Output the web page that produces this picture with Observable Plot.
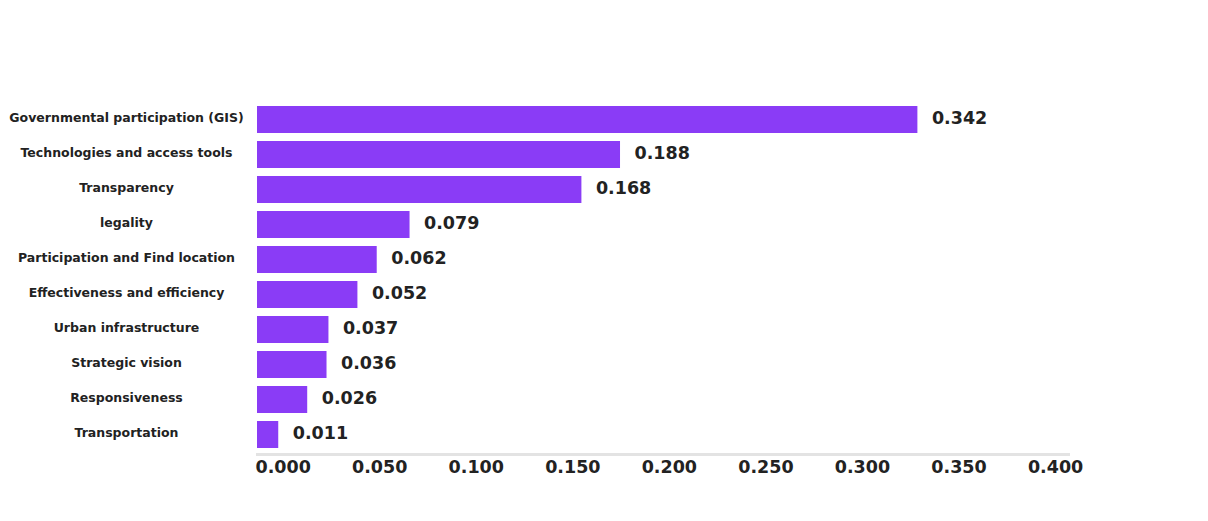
<!DOCTYPE html>
<html>
<head>
<meta charset="utf-8">
<script src="https://cdn.jsdelivr.net/npm/d3@7"></script>
<script src="https://cdn.jsdelivr.net/npm/@observablehq/plot@0.6"></script>
<style>
  html, body { margin: 0; padding: 0; background: #ffffff; }
  #chart { width: 1208px; height: 521px; }
</style>
</head>
<body>
<div id="chart"></div>
<script>
const categories = [
  "Governmental participation (GIS)",
  "Technologies and access tools",
  "Transparency",
  "legality",
  "Participation and Find location",
  "Effectiveness and efficiency",
  "Urban infrastructure",
  "Strategic vision",
  "Responsiveness",
  "Transportation"
];
const values = [0.342, 0.188, 0.168, 0.079, 0.062, 0.052, 0.037, 0.036, 0.026, 0.011];
const xTicks = [0, 0.05, 0.1, 0.15, 0.2, 0.25, 0.3, 0.35, 0.4];

const data = categories.map((c, i) => ({name: c, value: values[i]}));
const barColor = "#8a3cf6";
const textColor = "#222222";

const chart = Plot.plot({
  width: 1208,
  height: 521,
  marginLeft: 257,
  marginRight: 140,
  marginTop: 99,
  marginBottom: 67,
  style: {background: "#ffffff", fontFamily: "DejaVu Sans, sans-serif"},
  x: {domain: [0, 0.42]},
  y: {domain: categories, paddingInner: 0.24, paddingOuter: 0.12, align: 0.5},
  marks: [
    Plot.frame({anchor: "bottom", stroke: "#e3e3e3", strokeWidth: 3}),
    Plot.barX(data, {x: "value", y: "name", fill: barColor}),
    Plot.text(data, {
      x: "value", y: "name", text: d => d.value.toFixed(3),
      textAnchor: "start", dx: 14, dy: -2,
      fontSize: 17.5, fontWeight: "bold", fill: textColor
    }),
    Plot.axisX({
      ticks: xTicks, tickSize: 0, tickPadding: 6,
      tickFormat: d => d.toFixed(3),
      textAnchor: "start", dx: -2,
      fontSize: 17.5, fontWeight: "bold", fill: textColor, label: null
    }),
    Plot.axisY({
      tickSize: 0, tickPadding: 131, textAnchor: "middle", dy: -2,
      fontSize: 12.5, fontWeight: "bold", fill: textColor, label: null
    })
  ]
});
document.getElementById("chart").appendChild(chart);
</script>
</body>
</html>
